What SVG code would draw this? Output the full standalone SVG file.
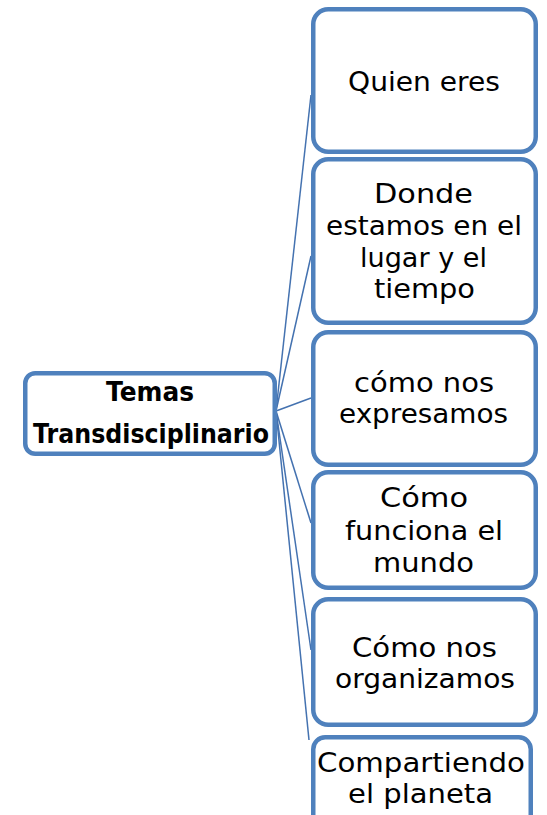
<svg xmlns="http://www.w3.org/2000/svg" width="547" height="815" viewBox="0 0 547 815">
<style>
.box{fill:#fff;stroke:#4F81BD;stroke-width:4.5}
.t{font-family:"DejaVu Sans",sans-serif;font-size:26px;fill:#000;text-anchor:middle}
.b{font-weight:bold;font-size:26px}
.c{stroke:#4472B0;stroke-width:1.5;fill:none}
</style>
<rect width="547" height="815" fill="#fff"/>
<g id="connectors">
<line class="c" x1="276" y1="411" x2="311" y2="95"/>
<line class="c" x1="276" y1="411" x2="311" y2="256"/>
<line class="c" x1="276" y1="411" x2="311" y2="398"/>
<line class="c" x1="276" y1="411" x2="311" y2="523"/>
<line class="c" x1="276" y1="411" x2="311" y2="650"/>
<line class="c" x1="276" y1="411" x2="309" y2="740"/>
</g>
<g id="root">
<rect class="box" x="25.25" y="373.25" width="249.5" height="80.5" rx="10"/>
<text class="t b" x="150" y="401" textLength="88" lengthAdjust="spacingAndGlyphs">Temas</text>
<text class="t b" x="151" y="443" textLength="236" lengthAdjust="spacingAndGlyphs">Transdisciplinario</text>
</g>
<g id="n1">
<rect class="box" x="313.25" y="9.25" width="222.5" height="142.5" rx="15"/>
<text class="t" x="424" y="91" textLength="152" lengthAdjust="spacingAndGlyphs">Quien eres</text>
</g>
<g id="n2">
<rect class="box" x="313.25" y="159.25" width="222.5" height="163.5" rx="15"/>
<text class="t" x="423.5" y="203" textLength="99" lengthAdjust="spacingAndGlyphs">Donde</text>
<text class="t" x="424" y="235" textLength="196" lengthAdjust="spacingAndGlyphs">estamos en el</text>
<text class="t" x="423.5" y="267" textLength="127" lengthAdjust="spacingAndGlyphs">lugar y el</text>
<text class="t" x="424.5" y="298" textLength="101" lengthAdjust="spacingAndGlyphs">tiempo</text>
</g>
<g id="n3">
<rect class="box" x="313.25" y="332.25" width="222.5" height="132.5" rx="15"/>
<text class="t" x="424" y="392" textLength="140" lengthAdjust="spacingAndGlyphs">cómo nos</text>
<text class="t" x="423.5" y="423" textLength="169" lengthAdjust="spacingAndGlyphs">expresamos</text>
</g>
<g id="n4">
<rect class="box" x="313.25" y="472.25" width="222.5" height="115.5" rx="15"/>
<text class="t" x="424" y="507" textLength="88" lengthAdjust="spacingAndGlyphs">Cómo</text>
<text class="t" x="424" y="540" textLength="158" lengthAdjust="spacingAndGlyphs">funciona el</text>
<text class="t" x="423.5" y="572" textLength="101" lengthAdjust="spacingAndGlyphs">mundo</text>
</g>
<g id="n5">
<rect class="box" x="313.25" y="599.25" width="222.5" height="125.5" rx="15"/>
<text class="t" x="424.5" y="657" textLength="145" lengthAdjust="spacingAndGlyphs">Cómo nos</text>
<text class="t" x="425" y="688" textLength="180" lengthAdjust="spacingAndGlyphs">organizamos</text>
</g>
<g id="n6">
<rect class="box" x="313.25" y="737.25" width="217.5" height="100" rx="12"/>
<text class="t" x="421" y="772" textLength="208" lengthAdjust="spacingAndGlyphs">Compartiendo</text>
<text class="t" x="420.5" y="803" textLength="145" lengthAdjust="spacingAndGlyphs">el planeta</text>
</g>
</svg>
